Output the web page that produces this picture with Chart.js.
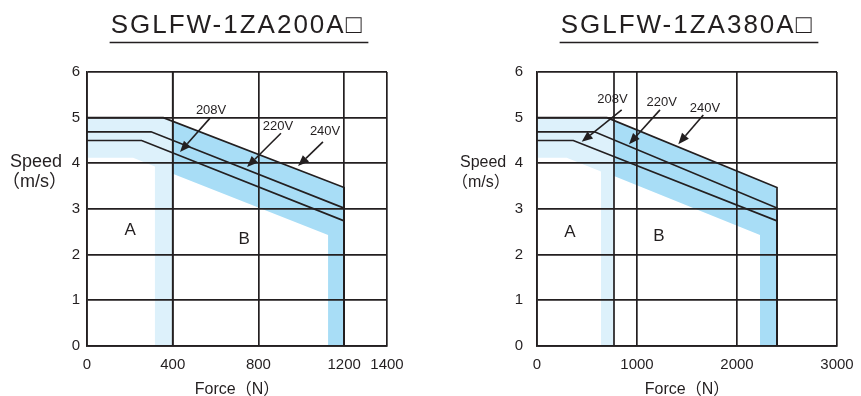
<!DOCTYPE html>
<html>
<head>
<meta charset="utf-8">
<script src="https://cdn.jsdelivr.net/npm/chart.js@4.4.1/dist/chart.umd.min.js"></script>
<style>
    html, body { margin: 0; padding: 0; background: #fff; }
    #wrap { position: relative; width: 861px; height: 396px; }
    .box { position: absolute; top: 0; height: 396px; }
    #box1 { left: 0; width: 430px; }
    #box2 { left: 430px; width: 431px; }
</style>
</head>
<body>
<div id="wrap">
    <div class="box" id="box1"><canvas id="chart200" width="430" height="396"></canvas></div>
    <div class="box" id="box2"><canvas id="chart380" width="431" height="396"></canvas></div>
</div>
<script>
// --- data (force N, speed m/s) ---
const speedTicks = [0, 1, 2, 3, 4, 5, 6];

// SGLFW-1ZA200A
const za200ForceTicks = [0, 400, 800, 1200, 1400];
const za200Curve208 = [[0, 4.50], [255, 4.50], [1200, 2.74], [1200, 0]];
const za200Curve220 = [[0, 4.69], [299, 4.69], [1200, 3.02], [1200, 0]];
const za200Curve240 = [[0, 5.00], [356, 5.00], [1200, 3.47], [1200, 0]];
const za200RegionA = [[0, 5], [356, 5], [400, 4.92], [400, 0], [317, 0], [317, 3.93], [215, 4.12], [0, 4.12], [0, 5]];
const za200RegionB = [[400, 4.92], [1200, 3.47], [1200, 0], [1125, 0], [1125, 2.43], [400, 3.77], [400, 4.92]];
const za200Boundary = 400;
// [label, text x, text y, arrow tail x, tail y, head x, head y]
const za200Arrows = [
    ['208V', 579, 5.15, 574, 4.99, 434, 4.25],
    ['220V', 891, 4.80, 905, 4.66, 747, 3.92],
    ['240V', 1111, 4.69, 1101, 4.47, 985, 3.94]
];
const za200Zones = [['A', 201, 2.54], ['B', 733, 2.34]];

// SGLFW-1ZA380A
const za380ForceTicks = [0, 1000, 2000, 3000];
const za380Curve208 = [[0, 4.50], [363, 4.50], [2400, 2.74], [2400, 0]];
const za380Curve220 = [[0, 4.69], [575, 4.69], [2400, 3.02], [2400, 0]];
const za380Curve240 = [[0, 5.00], [700, 5.00], [2400, 3.47], [2400, 0]];
const za380RegionA = [[0, 5], [700, 5], [770, 4.94], [770, 0], [640, 0], [640, 3.82], [297, 4.12], [0, 4.12], [0, 5]];
const za380RegionB = [[770, 4.94], [2400, 3.47], [2400, 0], [2230, 0], [2230, 2.43], [770, 3.72], [770, 4.94]];
const za380Boundary = 770;
const za380Arrows = [
    ['208V', 755, 5.39, 847, 5.17, 447, 4.47],
    ['220V', 1247, 5.34, 1230, 5.17, 920, 4.42],
    ['240V', 1680, 5.21, 1663, 5.06, 1413, 4.42]
];
const za380Zones = [['A', 330, 2.48], ['B', 1220, 2.41]];

const INK = '#231f20';
const LIGHT_BLUE = '#ddf1fb';
const DARK_BLUE = '#a8ddf6';
const SANS = '"Liberation Sans", "Noto Sans CJK JP", sans-serif';

function toPoints(pairs) {
    return pairs.map(([x, y]) => ({ x: x, y: y }));
}

// titles, axis captions, zone letters and voltage arrows
const annotatePlugin = {
    id: 'annotate',
    afterDraw(chart, args, opts) {
        const ctx = chart.ctx;
        const xs = chart.scales.x;
        const ys = chart.scales.y;
        const area = chart.chartArea;
        const mid = (area.left + area.right) / 2;
        ctx.save();
        ctx.fillStyle = INK;
        ctx.strokeStyle = INK;

        // title + underline
        ctx.font = '26px ' + SANS;
        ctx.letterSpacing = '2px';
        ctx.textAlign = 'center';
        ctx.textBaseline = 'alphabetic';
        ctx.fillText(opts.title, mid, 33);
        const tw = ctx.measureText(opts.title).width;
        ctx.letterSpacing = '0px';
        ctx.lineWidth = 1.5;
        ctx.beginPath();
        ctx.moveTo(mid - tw / 2 - 1, 42.5);
        ctx.lineTo(mid + tw / 2 + 5, 42.5);
        ctx.stroke();

        // y caption
        ctx.textAlign = 'left';
        ctx.font = opts.speedSize + 'px ' + SANS;
        ctx.fillText('Speed', area.left - 77, 167);
        ctx.fillText('（m/s）', area.left - 85, 187);

        // x caption
        ctx.textAlign = 'center';
        ctx.font = '16px ' + SANS;
        ctx.fillText('Force（N）', mid, 394);

        // zone letters
        ctx.font = '17px ' + SANS;
        ctx.textBaseline = 'middle';
        opts.zones.forEach(([txt, x, y]) => {
            ctx.fillText(txt, xs.getPixelForValue(x), ys.getPixelForValue(y));
        });

        // voltage arrows
        ctx.font = '13px ' + SANS;
        ctx.lineWidth = 1.6;
        opts.arrows.forEach(([txt, lx, ly, tx, ty, hx, hy]) => {
            ctx.fillText(txt, xs.getPixelForValue(lx), ys.getPixelForValue(ly));
            const x0 = xs.getPixelForValue(tx), y0 = ys.getPixelForValue(ty);
            const x1 = xs.getPixelForValue(hx), y1 = ys.getPixelForValue(hy);
            const ang = Math.atan2(y1 - y0, x1 - x0);
            const len = 11, half = 4.5;
            const bx = x1 - len * Math.cos(ang), by = y1 - len * Math.sin(ang);
            ctx.beginPath();
            ctx.moveTo(x0, y0);
            ctx.lineTo(bx, by);
            ctx.stroke();
            ctx.beginPath();
            ctx.moveTo(x1, y1);
            ctx.lineTo(bx + half * Math.sin(ang), by - half * Math.cos(ang));
            ctx.lineTo(bx - half * Math.sin(ang), by + half * Math.cos(ang));
            ctx.closePath();
            ctx.fill();
        });
        ctx.restore();
    }
};

function makeChart(canvasId, cfg) {
    // shaded zones go underneath (higher order = drawn first)
    const area = (pairs, color) => ({
        data: toPoints(pairs),
        showLine: true,
        fill: 'shape',
        backgroundColor: color,
        borderWidth: 0,
        pointRadius: 0,
        order: 10
    });
    const curve = (pairs) => ({
        data: toPoints(pairs),
        showLine: true,
        fill: false,
        borderColor: INK,
        borderWidth: 1.7,
        pointRadius: 0,
        order: 1
    });
    return new Chart(document.getElementById(canvasId), {
        type: 'scatter',
        data: {
            datasets: [
                area(cfg.regionA, LIGHT_BLUE),
                area(cfg.regionB, DARK_BLUE),
                curve([[cfg.boundary, 0], [cfg.boundary, 6]]),
                curve(cfg.curve240),
                curve(cfg.curve220),
                curve(cfg.curve208)
            ]
        },
        options: {
            responsive: false,
            animation: false,
            events: [],
            layout: { padding: { left: 0, top: 72, right: cfg.rightPad, bottom: 0 } },
            plugins: {
                legend: { display: false },
                tooltip: { enabled: false },
                annotate: {
                    title: cfg.title,
                    speedSize: cfg.speedSize,
                    zones: cfg.zones,
                    arrows: cfg.arrows
                }
            },
            scales: {
                x: {
                    type: 'linear',
                    min: 0,
                    max: cfg.forceTicks[cfg.forceTicks.length - 1],
                    afterBuildTicks: axis => { axis.ticks = cfg.forceTicks.map(v => ({ value: v })); },
                    afterFit: axis => { axis.height = 50; axis.paddingLeft = 0; axis.paddingRight = 0; },
                    grid: { color: INK, lineWidth: 1.7, drawTicks: false, z: 1 },
                    border: { color: INK, width: 1.7, z: 1 },
                    ticks: {
                        color: INK,
                        font: { family: SANS, size: 15 },
                        padding: 10,
                        maxRotation: 0,
                        callback: v => String(v)
                    }
                },
                y: {
                    type: 'linear',
                    min: 0,
                    max: 6,
                    afterBuildTicks: axis => { axis.ticks = speedTicks.map(v => ({ value: v })); },
                    afterFit: axis => { axis.width = cfg.yAxisWidth; axis.paddingTop = 0; axis.paddingBottom = 0; },
                    grid: { color: INK, lineWidth: 1.7, drawTicks: false, z: 1 },
                    border: { color: INK, width: 1.7, z: 1 },
                    ticks: {
                        color: INK,
                        font: { family: SANS, size: 15 },
                        padding: cfg.yTickPad,
                        callback: v => String(v)
                    }
                }
            }
        },
        plugins: [annotatePlugin]
    });
}

makeChart('chart200', {
    title: 'SGLFW-1ZA200A□',
    forceTicks: za200ForceTicks,
    curve208: za200Curve208,
    curve220: za200Curve220,
    curve240: za200Curve240,
    regionA: za200RegionA,
    regionB: za200RegionB,
    boundary: za200Boundary,
    arrows: za200Arrows,
    zones: za200Zones,
    yAxisWidth: 87,
    rightPad: 43,
    yTickPad: 7,
    speedSize: 18
});

makeChart('chart380', {
    title: 'SGLFW-1ZA380A□',
    forceTicks: za380ForceTicks,
    curve208: za380Curve208,
    curve220: za380Curve220,
    curve240: za380Curve240,
    regionA: za380RegionA,
    regionB: za380RegionB,
    boundary: za380Boundary,
    arrows: za380Arrows,
    zones: za380Zones,
    yAxisWidth: 107,
    rightPad: 24,
    yTickPad: 14,
    speedSize: 16
});
</script>
</body>
</html>
